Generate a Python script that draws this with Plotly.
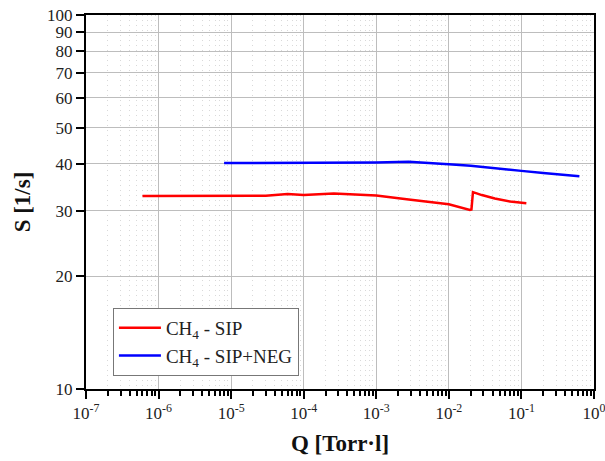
import plotly.graph_objects as go

# Data
q_sip = [6e-7, 1e-6, 1e-5, 3e-5, 6e-5, 1e-4, 2.6e-4, 5e-4, 1e-3, 2.8e-3, 5e-3, 1e-2, 1.95e-2, 2.05e-2, 2.15e-2, 2.85e-2, 4.3e-2, 7e-2, 1.17e-1]
s_sip = [32.8, 32.8, 32.8, 32.85, 33.2, 33.0, 33.3, 33.15, 32.9, 32.1, 31.7, 31.2, 30.1, 30.2, 33.6, 33.0, 32.3, 31.7, 31.4]

q_neg = [8e-6, 1e-5, 1e-4, 1e-3, 2.8e-3, 5e-3, 1e-2, 2e-2, 5e-2, 1e-1, 2e-1, 3e-1, 6.3e-1]
s_neg = [40.2, 40.2, 40.3, 40.35, 40.5, 40.3, 39.9, 39.5, 38.9, 38.3, 37.8, 37.5, 37.05]

x_ticks = [1e-7, 1e-6, 1e-5, 1e-4, 1e-3, 1e-2, 1e-1, 1e0]
x_labels = ["10<sup>-7</sup>", "10<sup>-6</sup>", "10<sup>-5</sup>", "10<sup>-4</sup>",
            "10<sup>-3</sup>", "10<sup>-2</sup>", "10<sup>-1</sup>", "10<sup>0</sup>"]
y_ticks = [10, 20, 30, 40, 50, 60, 70, 80, 90, 100]

FONT = "Liberation Serif"

fig = go.Figure()
fig.add_trace(go.Scatter(x=q_sip, y=s_sip, mode="lines", name="CH<sub>4</sub> - SIP",
                         line=dict(color="#ff0000", width=2.5)))
fig.add_trace(go.Scatter(x=q_neg, y=s_neg, mode="lines", name="CH<sub>4</sub> - SIP+NEG",
                         line=dict(color="#0000ff", width=2.5)))

fig.update_layout(
    width=605, height=461,
    margin=dict(l=86, r=11, t=15, b=72),
    paper_bgcolor="white", plot_bgcolor="white",
    font=dict(family=FONT, size=17, color="#222"),
    showlegend=True,
    legend=dict(x=0.053, y=0.2166, xanchor="left", yanchor="top",
                bgcolor="white", bordercolor="#777", borderwidth=1,
                font=dict(family=FONT, size=19, color="#222"),
                itemwidth=42, tracegroupgap=6),
)

fig.update_xaxes(
    type="log", range=[-7, 0.0005], tickmode="array", tickvals=x_ticks, ticktext=x_labels,
    automargin=False, ticklabeloverflow="allow",
    showline=True, linecolor="black", linewidth=2, mirror=True,
    ticks="outside", ticklen=8, tickwidth=2, tickcolor="black",
    showgrid=True, gridcolor="#bdbdbd", gridwidth=1,
    minor=dict(dtick="D1", ticks="outside", ticklen=5, tickwidth=1.5, tickcolor="black",
               showgrid=True, gridcolor="#d9d9d9", griddash="1px,4px", gridwidth=1),
    tickfont=dict(family=FONT, size=17, color="#222"),
    title=dict(text="<b>Q [Torr·l]</b>", font=dict(family=FONT, size=23, color="#111"), standoff=12),
    zeroline=False,
)
fig.update_yaxes(
    type="log", range=[1, 2], tickmode="array", tickvals=y_ticks, ticktext=[str(v) for v in y_ticks],
    automargin=False,
    showline=True, linecolor="black", linewidth=2, mirror=True,
    ticks="outside", ticklen=8, tickwidth=2, tickcolor="black",
    showgrid=True, gridcolor="#bdbdbd", gridwidth=1,
    tickfont=dict(family=FONT, size=17, color="#222"),
    title=dict(text="<b>S [1/s]</b>", font=dict(family=FONT, size=23, color="#111"), standoff=10),
    zeroline=False,
)

fig.write_html("out.html")
